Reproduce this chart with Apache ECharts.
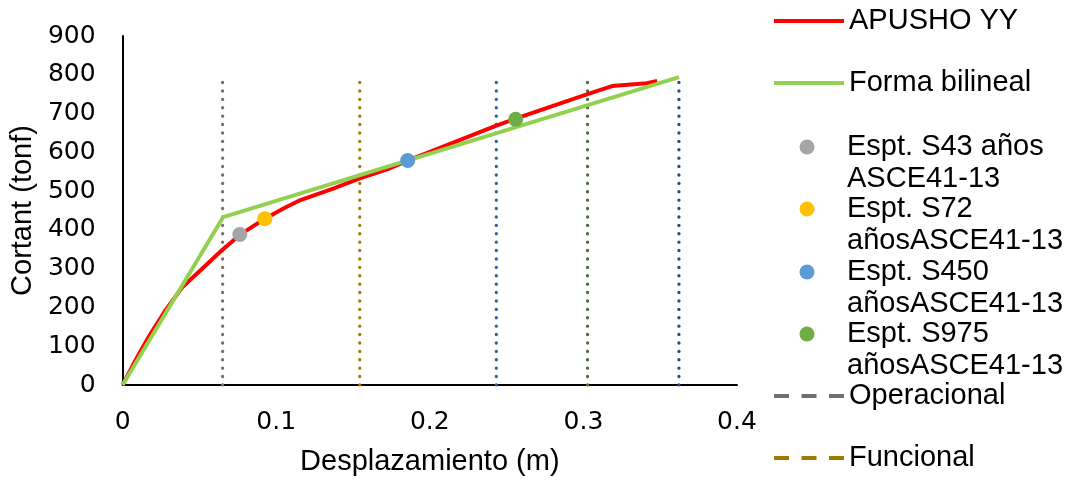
<!DOCTYPE html>
<html>
<head>
<meta charset="utf-8">
<script src="https://cdn.jsdelivr.net/npm/echarts@6/dist/echarts.min.js"></script>
<style>
html,body{margin:0;padding:0;background:#fff;}
#chart{width:1074px;height:482px;}
</style>
</head>
<body>
<div id="chart"></div>
<script>
// ---- data ----
const xTicks = [0, 0.1, 0.2, 0.3, 0.4];
const yTicks = [0, 100, 200, 300, 400, 500, 600, 700, 800, 900];

const pushoverName = 'APUSHO YY';
const pushoverX = [0, 0.0084, 0.0171, 0.028, 0.0388, 0.0497, 0.0648, 0.0763, 0.0926, 0.105, 0.1158, 0.1375, 0.1544, 0.1722, 0.1852, 0.2433, 0.2559, 0.3027, 0.3186, 0.3414, 0.348];
const pushoverY = [0, 64, 125, 193, 252, 292, 348, 387, 429, 456, 477, 507, 533, 556, 578, 669, 687, 750, 771, 778, 784];

const bilinealName = 'Forma bilineal';
const bilinealX = [0, 0.0655, 0.3622];
const bilinealY = [0, 433, 794];

const puntoNames = ['Espt. S43 años ASCE41-13', 'Espt. S72 añosASCE41-13', 'Espt. S450 añosASCE41-13', 'Espt. S975 añosASCE41-13'];
const puntoLabels = ['Espt. S43 años\nASCE41-13', 'Espt. S72\nañosASCE41-13', 'Espt. S450\nañosASCE41-13', 'Espt. S975\nañosASCE41-13'];
const puntoX = [0.0763, 0.0926, 0.1856, 0.2559];
const puntoY = [388, 429, 579, 685];

const nivelNames = ['Operacional', 'Funcional', 'Nivel 3', 'Nivel 4', 'Nivel 5'];
const nivelX = [0.0651, 0.1544, 0.2433, 0.3027, 0.3622];
const nivelTop = [790, 790, 790, 790, 790];

// ---- styling ----
const FONT = "'Liberation Sans', Arial, sans-serif";
const TICKFONT = "'DejaVu Sans', 'Liberation Sans', Arial, sans-serif";
const puntoColors = ['#A5A5A5', '#FFC000', '#5B9BD5', '#70AD47'];
const nivelColors = ['#707070', '#9E7B00', '#2E6099', '#4B6F2F', '#2C4A7E'];

const series = [];
nivelX.forEach((x, i) => {
  series.push({
    name: nivelNames[i], type: 'line', symbol: 'none', z: 1,
    data: [[x, 0], [x, nivelTop[i]]],
    lineStyle: { color: nivelColors[i], width: 3.3, type: [0.1, 8.3], cap: 'round' },
    itemStyle: { color: nivelColors[i] }
  });
});
series.push({
  name: pushoverName, type: 'line', symbol: 'none', z: 3,
  data: pushoverX.map((x, i) => [x, pushoverY[i]]),
  lineStyle: { color: '#FF0000', width: 4, join: 'round' }, itemStyle: { color: '#FF0000' }
});
series.push({
  name: bilinealName, type: 'line', symbol: 'none', z: 4,
  data: bilinealX.map((x, i) => [x, bilinealY[i]]),
  lineStyle: { color: '#92D050', width: 4 }, itemStyle: { color: '#92D050' }
});
puntoNames.forEach((n, i) => {
  series.push({
    name: n, type: 'scatter', symbol: 'circle', symbolSize: 15, z: 5,
    data: [[puntoX[i], puntoY[i]]],
    itemStyle: { color: puntoColors[i], opacity: 1 }
  });
});

const legendCenters = [21, 83, 146, 208, 271, 333, 396, 458];
const legendEntries = [
  { name: pushoverName, line: '#FF0000' },
  { name: bilinealName, line: '#92D050' },
  { name: puntoNames[0], multi: true },
  { name: puntoNames[1], multi: true },
  { name: puntoNames[2], multi: true },
  { name: puntoNames[3], multi: true },
  { name: nivelNames[0], line: nivelColors[0], dash: true },
  { name: nivelNames[1], line: nivelColors[1], dash: true }
];
const labelMap = {};
// leading empty line keeps the first text line level with the marker
puntoNames.forEach((n, i) => labelMap[n] = '\n' + puntoLabels[i]);

const LH = 32;
const ICON_W = 70, ICON_H = 15;
const legends = legendEntries.map((e, i) => {
  const d = { name: e.name };
  if (e.line) {
    d.itemStyle = { color: 'rgba(0,0,0,0)', borderColor: 'rgba(0,0,0,0)', borderWidth: 0, opacity: 0 };
    d.lineStyle = { width: 4, color: e.line, opacity: 1, cap: 'butt', type: e.dash ? [15, 12.5] : 'solid' };
  }
  return {
    // marker-only items: bounding box starts at the dot, not the icon slot
    left: e.multi ? 772 + (ICON_W - ICON_H) / 2 : 772,
    top: legendCenters[i] - (e.multi ? LH * 1.5 - 1 : LH / 2), padding: 0,
    itemWidth: ICON_W, itemHeight: ICON_H, selectedMode: false,
    data: [d],
    formatter: n => labelMap[n] || n,
    textStyle: { fontSize: 29, lineHeight: LH, color: '#000', fontFamily: FONT }
  };
});

const chart = echarts.init(document.getElementById('chart'), null, { renderer: 'canvas' });
chart.setOption({
  animation: false,
  backgroundColor: '#fff',
  grid: { left: 122, top: 36, width: 615, height: 349, containLabel: false },
  legend: legends,
  xAxis: {
    type: 'value', min: xTicks[0], max: xTicks[xTicks.length - 1], interval: 0.1,
    name: 'Desplazamiento (m)', nameLocation: 'middle', nameGap: 62,
    nameTextStyle: { fontSize: 29, color: '#000', fontFamily: FONT },
    axisLine: { show: true, onZero: false, lineStyle: { color: '#000', width: 2 } },
    axisTick: { show: false }, splitLine: { show: false },
    axisLabel: { fontSize: 25, color: '#000', fontFamily: TICKFONT, margin: 25,
      formatter: v => String(Math.round(v * 10) / 10) }
  },
  yAxis: {
    type: 'value', min: yTicks[0], max: yTicks[yTicks.length - 1], interval: 100,
    name: 'Cortant (tonf)', nameLocation: 'middle', nameGap: 80, nameRotate: 90,
    nameTextStyle: { fontSize: 29, color: '#000', fontFamily: FONT },
    axisLine: { show: true, lineStyle: { color: '#000', width: 2 } },
    axisTick: { show: false }, splitLine: { show: false },
    axisLabel: { fontSize: 25, color: '#000', fontFamily: TICKFONT, margin: 27 }
  },
  series: series
});
</script>
</body>
</html>
